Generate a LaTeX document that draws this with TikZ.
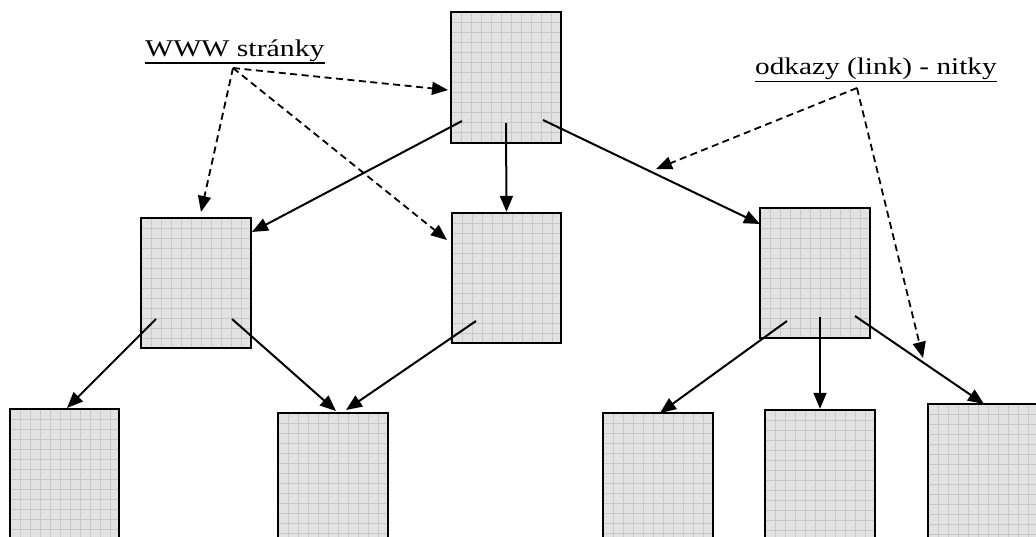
\documentclass[tikz,border=0pt]{standalone}
\usepackage{fontspec}
\setmainfont{Liberation Serif}
\usepackage{graphicx}
\usetikzlibrary{arrows.meta}
\definecolor{boxfill}{HTML}{E2E2E2}
\definecolor{gridc}{HTML}{C8C8C8}
\tikzset{
  page/.style={x=1pt,y=-1pt},
  gridline/.style={draw=gridc,line width=0.7pt},
  pagebox/.style={rectangle,draw=black,line width=2.4pt,fill=boxfill,inner sep=0pt,
    path picture={
      \foreach \i in {1,...,13}
        \draw[gridline] ([xshift=\i*10pt]path picture bounding box.north west) -- ([xshift=\i*10pt]path picture bounding box.south west);
      \foreach \i in {1,...,15}
        \draw[gridline] ([yshift=-\i*10pt]path picture bounding box.north west) -- ([yshift=-\i*10pt]path picture bounding box.north east);
    }},
  link/.style={line width=2pt,-{Triangle[length=16pt,width=13pt]}},
  note/.style={line width=1.8pt,dash pattern=on 7pt off 4.5pt,-{Triangle[length=16pt,width=13pt]}},
  lab/.style={anchor=base west,inner sep=0pt,font=\fontsize{24}{28}\selectfont},
}
\begin{document}
\begin{tikzpicture}[page]
\useasboundingbox (0,0) rectangle (1036,537);
\clip (0,0) rectangle (1036,537);
% boxes
\node[pagebox,minimum width=110pt,minimum height=131pt] (top) at (506,77.5) {};
\node[pagebox,minimum width=110pt,minimum height=130pt] (ml) at (196,283) {};
\node[pagebox,minimum width=109pt,minimum height=130pt] (mc) at (506.5,278) {};
\node[pagebox,minimum width=110pt,minimum height=130pt] (mr) at (815,273) {};
\node[pagebox,minimum width=109pt,minimum height=141pt] (b1) at (64.5,479.5) {};
\node[pagebox,minimum width=110pt,minimum height=137pt] (b2) at (333,481.5) {};
\node[pagebox,minimum width=110pt,minimum height=137pt] (b3) at (658,481.5) {};
\node[pagebox,minimum width=110pt,minimum height=140pt] (b4) at (820,480) {};
\node[pagebox,minimum width=110pt,minimum height=146pt] (b5) at (983,477) {};
% labels
\node[lab] (www) at (145,57) {\scalebox{1.24}[1]{WWW stránky}};
\draw[line width=1.8pt] ([yshift=-6pt]www.base west) -- ([yshift=-6pt]www.base east);
\node[lab] (odk) at (755,75) {\scalebox{1.22}[1]{odkazy (link) - nitky}};
\draw[line width=1.8pt] ([yshift=-6.5pt]odk.base west) -- ([yshift=-6.5pt]odk.base east);
% connector points
\coordinate (t1) at (462,121);
\coordinate (t2) at (506,123);
\coordinate (t3) at (543,120);
\coordinate (ml1) at (156,319);
\coordinate (ml2) at (232,319);
\coordinate (mc1) at (476,321);
\coordinate (mr1) at (787,321);
\coordinate (mr2) at (820,317);
\coordinate (mr3) at (855,316);
\coordinate (e-ml) at (252,232);
\coordinate (e-mr) at (760,224);
\coordinate (e-b1) at (67,408);
\coordinate (e-b2a) at (336,411);
\coordinate (e-b2b) at (346,410);
\coordinate (e-b3) at (660,413);
\coordinate (e-b5) at (984,404);
\coordinate (wa) at (233,68);
\coordinate (oa) at (857,88);
\coordinate (d-top) at (448,90);
\coordinate (d-ml) at (201,212);
\coordinate (d-mc) at (447,240);
\coordinate (d-link) at (656,169);
\coordinate (d-link2) at (923,358);
% links
\draw[link] (t1) -- (e-ml);
\draw[link] (t2) -- (mc.north);
\draw[link] (t3) -- (e-mr);
\draw[link] (ml1) -- (e-b1);
\draw[link] (ml2) -- (e-b2a);
\draw[link] (mc1) -- (e-b2b);
\draw[link] (mr1) -- (e-b3);
\draw[link] (mr2) -- (b4.north);
\draw[link] (mr3) -- (e-b5);
% notes
\draw[note] (wa) -- (d-top);
\draw[note] (wa) -- (d-ml);
\draw[note] (wa) -- (d-mc);
\draw[note] (oa) -- (d-link);
\draw[note] (oa) -- (d-link2);
\end{tikzpicture}
\end{document}
